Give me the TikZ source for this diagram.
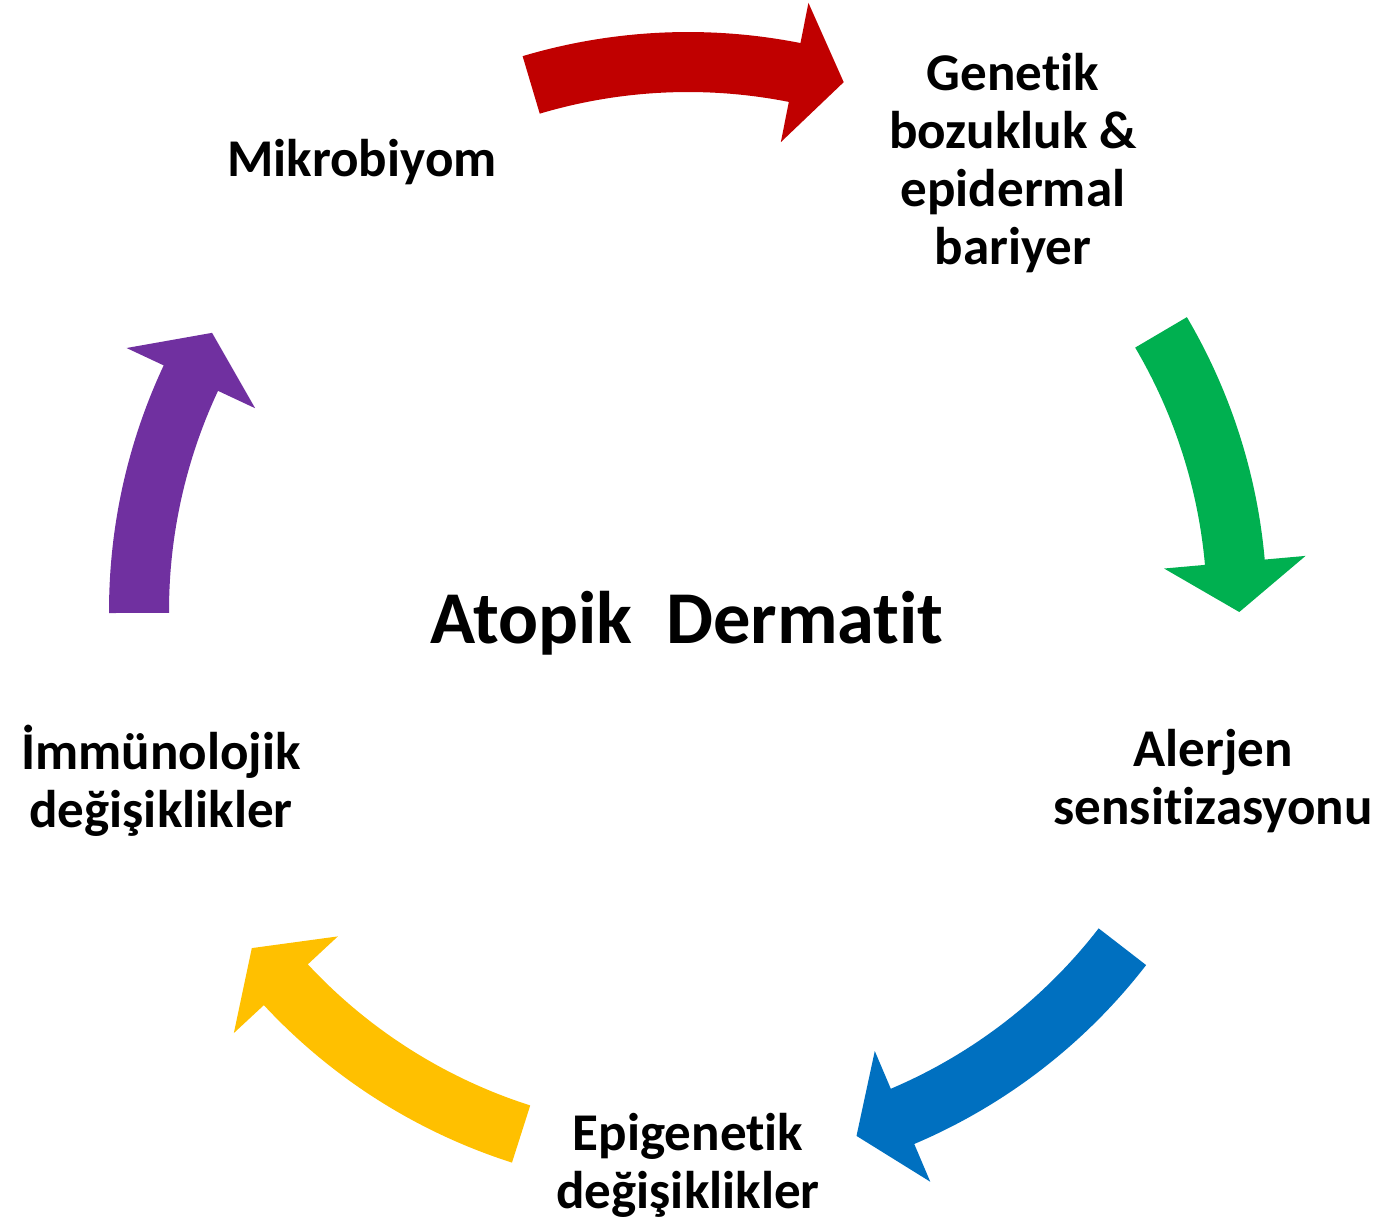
\documentclass[tikz,border=0pt]{standalone}
\usepackage{fontspec}
\setmainfont[Ligatures=NoCommon]{Carlito}
\usepackage{xcolor}
\usepackage{tikz}
\usetikzlibrary{calc,positioning}

\definecolor{arrowred}{HTML}{C00000}
\definecolor{arrowgreen}{HTML}{00B050}
\definecolor{arrowblue}{HTML}{0070C0}
\definecolor{arrowyellow}{HTML}{FFC000}
\definecolor{arrowpurple}{HTML}{7030A0}

% curved block arrow round (ctr): colour, start angle, end angle
\newcommand{\cyclearrow}[3]{%
  \fill[#1] ($(ctr)+(#2:5.79)$) arc[start angle=#2, end angle=#3, radius=5.79]
    -- ($(ctr)+(#3:6.20)$)
    -- ($(ctr)+(#3:5.49)+(#3-90:0.5)$)
    -- ($(ctr)+(#3:4.78)$)
    -- ($(ctr)+(#3:5.19)$) arc[start angle=#3, end angle=#2, radius=5.19]
    -- cycle;}

\begin{document}
\begin{tikzpicture}[
    steptext/.style={font=\fontsize{15.1}{16.5}\selectfont\bfseries, align=center},
    titletext/.style={font=\fontsize{21.2}{26}\selectfont\bfseries}]
    \useasboundingbox (0,0) rectangle (13.84,12.23);
    \coordinate (ctr) at (6.88,6.12);

    % arrows
    \cyclearrow{arrowred}{106.6}{78.8}
    \cyclearrow{arrowgreen}{30.5}{5.1}
    \cyclearrow{arrowblue}{-37.7}{-67.0}
    \cyclearrow{arrowyellow}{-107.7}{-137.1}
    \cyclearrow{arrowpurple}{180.2}{154.9}

    % labels
    \node [titletext] (title) at (6.87,6.00) {Atopik\ \ Dermatit};
    \node [steptext] (mikro) at (3.62,10.61) {Mikrobiyom};
    \node [steptext] (genetik) at (10.13,10.60) {Genetik\\bozukluk \&\\epidermal\\bariyer};
    \node [steptext] (alerjen) at (12.13,4.42) {Alerjen\\sensitizasyonu};
    \node [steptext] (epigen) at (6.88,0.58) {Epigenetik\\değişiklikler};
    \node [steptext] (immun) at (1.61,4.42) {İmmünolojik\\değişiklikler};
\end{tikzpicture}
\end{document}
